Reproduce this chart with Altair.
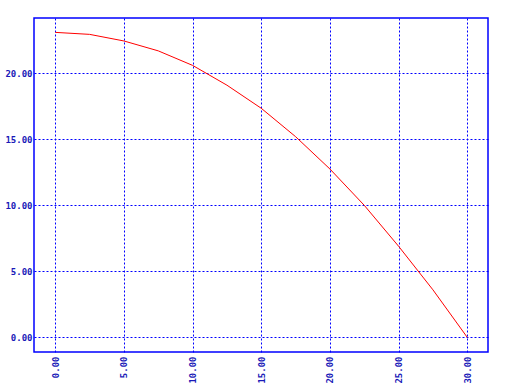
import altair as alt
import pandas as pd

xs = [0, 2.5, 5, 7.5, 10, 12.5, 15, 17.5, 20, 22.5, 25, 27.5, 30]
ys = [23.1, 22.95, 22.45, 21.7, 20.6, 19.1, 17.35, 15.2, 12.75, 10.0, 6.9, 3.6, 0.0]
x_ticks = [0, 5, 10, 15, 20, 25, 30]
y_ticks = [0, 5, 10, 15, 20]

df = pd.DataFrame({"x": xs, "y": ys})

blue = "#0000FF"
label_color = "#1a1ab8"

chart = alt.Chart(df).mark_line(color="#FF0000", strokeWidth=1).encode(
    x=alt.X("x:Q", scale=alt.Scale(domain=[-1.55, 31.51], nice=False, zero=False),
            axis=alt.Axis(values=x_ticks, format=".2f", labelAngle=-90, title=None,
                          ticks=False, domain=False, labelPadding=4,
                          grid=True, gridColor=blue, gridDash=[2, 2], gridWidth=1, gridOpacity=1,
                          labelFont="DejaVu Sans Mono", labelFontWeight="bold", labelFontSize=9,
                          labelColor=label_color)),
    y=alt.Y("y:Q", scale=alt.Scale(domain=[-1.11, 24.19], nice=False, zero=False),
            axis=alt.Axis(values=y_ticks, format=".2f", title=None,
                          ticks=False, domain=False, labelPadding=2,
                          grid=True, gridColor=blue, gridDash=[2, 2], gridWidth=1, gridOpacity=1,
                          labelFont="DejaVu Sans Mono", labelFontWeight="bold", labelFontSize=9,
                          labelColor=label_color)),
).properties(
    width=454, height=334,
    autosize=alt.AutoSizeParams(type="none"),
    padding={"left": 34, "top": 18, "right": 19, "bottom": 34},
    background="white",
).configure_view(stroke=blue, strokeWidth=1.5)

chart.save("out.html", embed_options={"renderer": "svg", "actions": False})
